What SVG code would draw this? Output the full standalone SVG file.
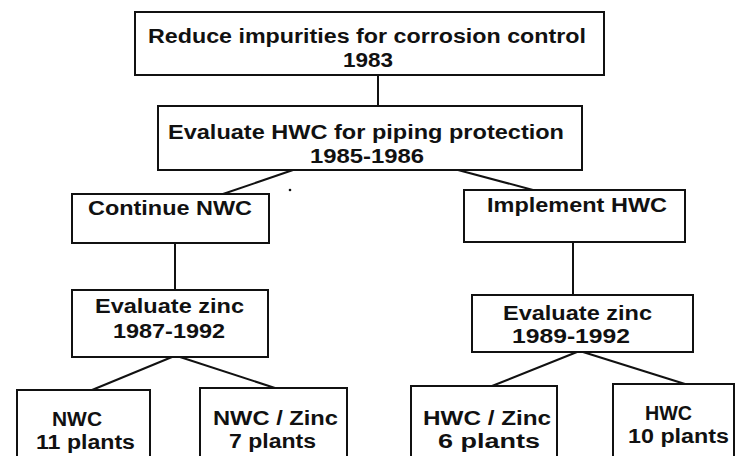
<svg xmlns="http://www.w3.org/2000/svg" width="739" height="456" viewBox="0 0 739 456">
<style>
.box{fill:#fff;stroke:#111;stroke-width:2}
.t{font-family:"Liberation Sans",Arial,Helvetica,sans-serif;font-weight:bold;font-size:19.5px;fill:#111}
.b{font-size:20px}
.c{stroke:#111;stroke-width:2;fill:none}
</style>
<rect width="739" height="456" fill="#fff"/>
<g id="connectors">
<line class="c" x1="378" y1="75" x2="378" y2="106"/>
<line class="c" x1="293" y1="170" x2="223" y2="194"/>
<line class="c" x1="458" y1="170" x2="533" y2="190"/>
<line class="c" x1="175" y1="243" x2="175" y2="290"/>
<line class="c" x1="573" y1="242" x2="573" y2="295"/>
<line class="c" x1="172" y1="357" x2="92" y2="390"/>
<line class="c" x1="180" y1="357" x2="275" y2="388"/>
<line class="c" x1="577" y1="352" x2="492" y2="386"/>
<line class="c" x1="583" y1="352" x2="685" y2="384"/>
</g>
<circle cx="290" cy="190" r="1.3" fill="#111"/>
<g id="n1">
<rect class="box" x="135" y="12" width="469" height="63"/>
<text class="t" x="148" y="43" textLength="438" lengthAdjust="spacingAndGlyphs">Reduce impurities for corrosion control</text>
<text class="t" x="343" y="67" textLength="50" lengthAdjust="spacingAndGlyphs">1983</text>
</g>
<g id="n2">
<rect class="box" x="158" y="106" width="424" height="64"/>
<text class="t" x="168" y="139" textLength="396" lengthAdjust="spacingAndGlyphs">Evaluate HWC for piping protection</text>
<text class="t" x="310" y="163" textLength="114" lengthAdjust="spacingAndGlyphs">1985-1986</text>
</g>
<g id="n3">
<rect class="box" x="72" y="194" width="197" height="49"/>
<text class="t" x="88" y="215" textLength="164" lengthAdjust="spacingAndGlyphs">Continue NWC</text>
</g>
<g id="n4">
<rect class="box" x="464" y="190" width="221" height="52"/>
<text class="t" x="487" y="212" textLength="180" lengthAdjust="spacingAndGlyphs">Implement HWC</text>
</g>
<g id="n5">
<rect class="box" x="72" y="290" width="196" height="67"/>
<text class="t" x="95" y="313" textLength="149" lengthAdjust="spacingAndGlyphs">Evaluate zinc</text>
<text class="t" x="113" y="338" textLength="112" lengthAdjust="spacingAndGlyphs">1987-1992</text>
</g>
<g id="n6">
<rect class="box" x="472" y="295" width="221" height="57"/>
<text class="t" x="503" y="320" textLength="149" lengthAdjust="spacingAndGlyphs">Evaluate zinc</text>
<text class="t" x="512" y="343" textLength="118" lengthAdjust="spacingAndGlyphs">1989-1992</text>
</g>
<g id="n7">
<rect class="box" x="17" y="390" width="133" height="80"/>
<text class="t b" x="52" y="426" textLength="50" lengthAdjust="spacingAndGlyphs">NWC</text>
<text class="t b" x="36" y="449" textLength="99" lengthAdjust="spacingAndGlyphs">11 plants</text>
</g>
<g id="n8">
<rect class="box" x="200" y="388" width="147" height="82"/>
<text class="t b" x="213" y="425" textLength="125" lengthAdjust="spacingAndGlyphs">NWC / Zinc</text>
<text class="t b" x="229" y="448" textLength="87" lengthAdjust="spacingAndGlyphs">7 plants</text>
</g>
<g id="n9">
<rect class="box" x="411" y="386" width="146" height="84"/>
<text class="t b" x="423" y="425" textLength="128" lengthAdjust="spacingAndGlyphs">HWC / Zinc</text>
<text class="t b" x="438" y="448" textLength="102" lengthAdjust="spacingAndGlyphs">6 plants</text>
</g>
<g id="n10">
<rect class="box" x="613" y="384" width="121" height="86"/>
<text class="t b" x="645" y="420" textLength="47" lengthAdjust="spacingAndGlyphs">HWC</text>
<text class="t b" x="628" y="443" textLength="101" lengthAdjust="spacingAndGlyphs">10 plants</text>
</g>
</svg>
